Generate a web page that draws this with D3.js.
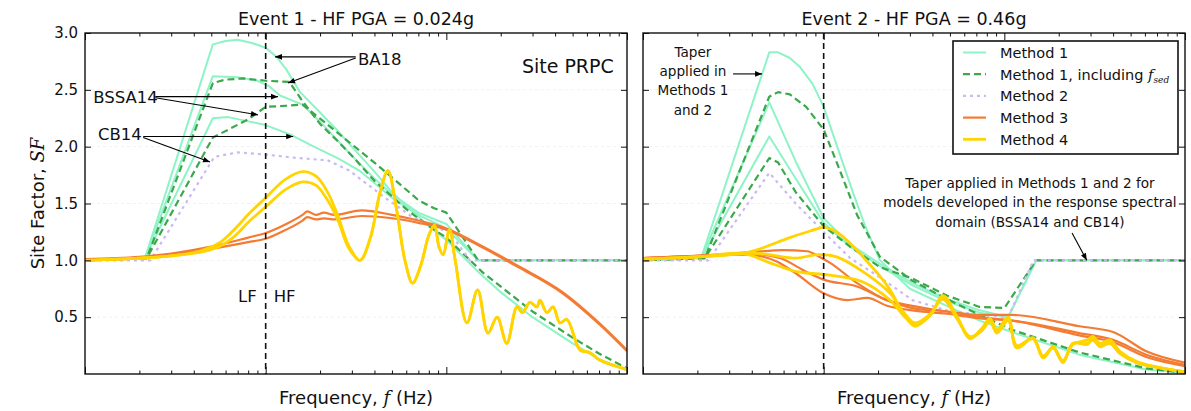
<!DOCTYPE html>
<html lang="en">
<head>
<meta charset="UTF-8">
<title>Site factors - Site PRPC</title>
<script src="https://d3js.org/d3.v7.min.js"></script>
<style>
  body { margin: 0; background: #fff; }
  svg text { font-family: "DejaVu Sans", sans-serif; fill: #111; }
</style>
</head>
<body>
<svg width="1191" height="411" viewBox="0 0 1191 411"></svg>
<script>
// ---- data: [frequency (Hz), site factor SF] ----

// Event 1 (PGA 0.024g)
const e1_m1_ba18 = [[0.1,1.0],[0.215,1.02],[0.51,2.90],[0.6,2.93],[0.7,2.94],[0.85,2.91],[1.0,2.87],[1.15,2.79],[1.3,2.68],[1.55,2.48],[2.0,2.3],[2.5,2.14],[3,2.0],[4,1.78],[5,1.6],[6,1.48],[8,1.3],[10,1.18],[15,0.9],[20,0.72],[30,0.5],[50,0.27],[70,0.13],[100,0.03]]
const e1_m1_bssa14 = [[0.1,1.0],[0.215,1.02],[0.51,2.62],[0.7,2.61],[0.9,2.58],[1.05,2.53],[1.2,2.45],[1.6,2.37],[2,2.22],[3,1.92],[4,1.72],[5,1.58],[7,1.42],[10,1.32],[15,1.0],[100,1.0]]
const e1_m1_cb14 = [[0.1,1.0],[0.215,1.02],[0.51,2.25],[0.62,2.26],[1.0,2.19],[1.4,2.1],[1.8,2.01],[2.5,1.9],[3.3,1.79],[4,1.68],[5,1.55],[7,1.4],[10,1.28],[15,1.0],[100,1.0]]
const e1_m1s_ba18 = [[0.1,1.0],[0.22,1.02],[0.51,2.56],[0.6,2.59],[0.75,2.6],[1.0,2.58],[1.35,2.57],[1.6,2.4],[2,2.2],[2.5,2.05],[3,1.92],[4,1.7],[6,1.45],[8,1.3],[10,1.2],[16,0.89],[30,0.55],[50,0.32],[70,0.18],[100,0.05]]
const e1_m1s_bssa14 = [[0.1,1.0],[0.22,1.02],[0.51,2.08],[0.8,2.24],[1.0,2.35],[1.3,2.36],[1.6,2.37],[2.3,2.17],[3,2.02],[4,1.86],[5,1.73],[7,1.53],[8.5,1.46],[10,1.42],[15,1.0],[100,1.0]]
const e1_m2 = [[0.1,1.0],[0.23,1.0],[0.52,1.91],[0.7,1.95],[1.0,1.93],[1.5,1.9],[2.2,1.88],[2.9,1.79],[4.5,1.56],[6.5,1.38],[10.5,1.24],[13.5,1.0],[100,1.0]]
const e1_m3_a = [[0.1,1.01],[0.2,1.03],[0.3,1.06],[0.5,1.12],[0.8,1.2],[1.0,1.24],[1.3,1.32],[1.6,1.4],[1.7,1.43],[1.9,1.4],[2.1,1.42],[2.4,1.4],[3.4,1.44],[5,1.4],[7,1.35],[10,1.28],[16,1.12],[25,0.95],[44,0.72],[70,0.45],[100,0.21]]
const e1_m3_b = [[0.1,1.0],[0.2,1.02],[0.3,1.05],[0.5,1.1],[0.8,1.16],[1.0,1.19],[1.3,1.27],[1.6,1.35],[1.7,1.38],[1.9,1.36],[2.1,1.37],[2.4,1.36],[3.4,1.39],[5,1.37],[7,1.33],[10,1.27],[16,1.11],[25,0.94],[44,0.71],[70,0.44],[100,0.2]]
const e1_m4_a = [[0.1,1.0],[0.2,1.02],[0.3,1.04],[0.43,1.08],[0.55,1.15],[0.66,1.26],[0.82,1.42],[1.0,1.55],[1.28,1.71],[1.6,1.78],[1.9,1.74],[2.2,1.6],[2.5,1.4],[2.9,1.12],[3.33,1.0],[3.8,1.2],[4.3,1.6],[4.75,1.79],[5.3,1.45],[5.9,1.0],[6.5,0.8],[7.2,0.95],[8.0,1.22],[8.6,1.31],[9.1,1.12],[9.6,1.05],[10.4,1.27],[11.2,1.0],[13.0,0.45],[14.9,0.74],[17.0,0.36],[19.1,0.5],[21.6,0.27],[24.6,0.59],[26.4,0.54],[29.0,0.63],[31.7,0.59],[33,0.65],[36,0.54],[39,0.59],[42.5,0.45],[46.5,0.48],[55,0.21],[62,0.19],[71,0.12],[100,0.04]]
const e1_m4_b = [[0.1,1.0],[0.2,1.02],[0.3,1.04],[0.43,1.07],[0.55,1.12],[0.66,1.2],[0.82,1.35],[1.0,1.47],[1.28,1.62],[1.6,1.69],[1.9,1.66],[2.2,1.53],[2.5,1.36],[2.9,1.1],[3.33,1.0],[3.8,1.2],[4.3,1.6],[4.75,1.79],[5.3,1.45],[5.9,1.0],[6.5,0.8],[7.2,0.95],[8.0,1.22],[8.6,1.31],[9.1,1.12],[9.6,1.05],[10.4,1.27],[11.2,1.0],[13.0,0.45],[14.9,0.74],[17.0,0.36],[19.1,0.5],[21.6,0.27],[24.6,0.59],[26.4,0.54],[29.0,0.63],[31.7,0.59],[33,0.65],[36,0.54],[39,0.59],[42.5,0.45],[46.5,0.48],[55,0.21],[62,0.19],[71,0.12],[100,0.04]]

// Event 2 (PGA 0.46g)
const e2_m1_ba18 = [[0.1,1.0],[0.21,1.02],[0.5,2.83],[0.56,2.83],[0.65,2.78],[0.74,2.7],[0.87,2.55],[1.0,2.35],[1.2,1.98],[1.45,1.6],[1.7,1.3],[2.05,1.0],[3,0.75],[4.8,0.6],[7.3,0.47],[11,0.37],[26,0.17],[61,0.04],[100,0.01]]
const e2_m1_bssa14 = [[0.1,1.0],[0.21,1.02],[0.5,2.39],[0.7,1.87],[1.0,1.37],[1.4,1.14],[2.05,0.97],[3.1,0.8],[4.8,0.66],[7.3,0.56],[10.5,0.5],[15,1.0],[100,1.0]]
const e2_m1_cb14 = [[0.1,1.0],[0.21,1.02],[0.5,2.09],[0.7,1.72],[1.0,1.33],[1.4,1.12],[2.05,0.95],[3.1,0.78],[4.8,0.64],[7.3,0.54],[10.5,0.5],[15,1.0],[100,1.0]]
const e2_m1s_ba18 = [[0.1,1.0],[0.22,1.02],[0.5,2.44],[0.56,2.48],[0.65,2.46],[0.8,2.35],[1.0,2.15],[1.23,1.79],[1.53,1.4],[2.05,1.03],[3.1,0.82],[4.8,0.66],[7.3,0.52],[11,0.39],[26,0.19],[61,0.05],[100,0.01]]
const e2_m1s_cb14 = [[0.1,1.0],[0.22,1.02],[0.5,1.9],[0.56,1.86],[0.7,1.6],[1.0,1.3],[1.4,1.12],[2.05,0.94],[3.1,0.84],[4.8,0.69],[7.3,0.59],[10,0.58],[15,1.0],[100,1.0]]
const e2_m2 = [[0.1,1.0],[0.23,1.0],[0.5,1.77],[0.7,1.5],[1.0,1.25],[1.4,1.02],[2.05,0.85],[3.1,0.65],[4.8,0.56],[7.3,0.52],[10.5,0.5],[14.5,1.0],[100,1.0]]
const e2_m3_a = [[0.1,1.02],[0.2,1.04],[0.38,1.07],[0.6,1.09],[0.81,1.08],[0.95,1.03],[1.08,0.98],[1.53,0.8],[2.24,0.65],[3.1,0.6],[4.8,0.55],[7.3,0.52],[11,0.52],[26,0.42],[40,0.37],[61,0.2],[100,0.1]]
const e2_m3_b = [[0.1,1.02],[0.2,1.04],[0.38,1.06],[0.57,1.02],[0.8,0.9],[1.0,0.83],[1.53,0.77],[2.24,0.65],[3.1,0.58],[4.8,0.55],[7.3,0.5],[11,0.47],[26,0.34],[40,0.28],[61,0.15],[100,0.07]]
const e2_m3_c = [[0.1,1.02],[0.2,1.04],[0.38,1.05],[0.55,0.99],[0.71,0.88],[1.0,0.71],[1.35,0.65],[1.74,0.67],[2.24,0.6],[3.1,0.56],[4.8,0.53],[7.3,0.49],[11,0.47],[26,0.36],[40,0.3],[61,0.17],[100,0.08]]
const e2_m4_a = [[0.1,1.01],[0.2,1.03],[0.38,1.07],[0.65,1.2],[0.85,1.26],[1.0,1.29],[1.18,1.25],[1.4,1.15],[1.65,1.03],[2.0,0.88],[2.33,0.74],[2.75,0.54],[3.2,0.42],[3.9,0.52],[4.57,0.69],[5.5,0.5],[6.45,0.32],[7.5,0.4],[8.32,0.49],[9.1,0.39],[10.5,0.5],[11.7,0.24],[14.4,0.32],[16.4,0.15],[18.6,0.24],[21.1,0.11],[24,0.27],[28.7,0.26],[30.9,0.3],[33.8,0.24],[38.4,0.27],[43.6,0.18],[54.2,0.1],[75.5,0.05],[100,0.02]]
const e2_m4_b = [[0.1,1.01],[0.2,1.03],[0.43,1.06],[0.71,1.02],[0.92,1.05],[1.18,1.03],[1.65,0.9],[2.33,0.71],[2.75,0.55],[3.2,0.45],[3.9,0.53],[4.57,0.66],[5.5,0.48],[6.45,0.33],[7.5,0.38],[8.32,0.46],[9.1,0.36],[10.5,0.47],[11.7,0.25],[14.4,0.31],[16.4,0.16],[18.6,0.23],[21.1,0.12],[24,0.26],[28.7,0.3],[30.9,0.33],[33.8,0.27],[38.4,0.3],[43.6,0.2],[54.2,0.11],[75.5,0.05],[100,0.02]]
const e2_m4_c = [[0.1,1.01],[0.2,1.03],[0.36,1.06],[0.5,0.98],[0.71,0.9],[1.08,0.87],[1.65,0.81],[2.33,0.65],[2.75,0.52],[3.2,0.43],[3.9,0.52],[4.57,0.68],[5.5,0.49],[6.45,0.31],[7.5,0.39],[8.32,0.48],[9.1,0.38],[10.5,0.49],[11.7,0.23],[14.4,0.31],[16.4,0.14],[18.6,0.23],[21.1,0.1],[24,0.27],[28.7,0.27],[30.9,0.31],[33.8,0.25],[38.4,0.28],[43.6,0.19],[54.2,0.1],[75.5,0.05],[100,0.02]]

// axes
const freqDomain = [0.1, 100]
const sfDomain = [0, 3]
const sfTicks = [0.5, 1.0, 1.5, 2.0, 2.5, 3.0]
const freqMajor = [0.1, 1, 10, 100]
const freqMinor = [-1, 0, 1].flatMap(e => [2,3,4,5,6,7,8,9].map(m => +(m * Math.pow(10, e)).toPrecision(3)))
const lfhfFreq = 1

const methods = [
    {key: 'm1',  label: 'Method 1',             color: '#8ef3c6', width: 2,   dash: null,  curve: d3.curveLinear},
    {key: 'm1s', label: 'Method 1, including ', color: '#3ba84b', width: 2.2, dash: '7,4', curve: d3.curveLinear},
    {key: 'm2',  label: 'Method 2',             color: '#cbb9f3', width: 2.2, dash: '3,4', curve: d3.curveLinear},
    {key: 'm3',  label: 'Method 3',             color: '#f47b33', width: 2.2, dash: null,  curve: d3.curveMonotoneX},
    {key: 'm4',  label: 'Method 4',             color: '#ffd400', width: 2.8, dash: null,  curve: d3.curveCatmullRom}
]

const panels = [
    {
        x0: 85, x1: 627, title: 'Event 1 - HF PGA = 0.024g', tickLabels: true,
        curves: [['m1', e1_m1_ba18], ['m1', e1_m1_bssa14], ['m1', e1_m1_cb14],
                 ['m1s', e1_m1s_ba18], ['m1s', e1_m1s_bssa14], ['m2', e1_m2],
                 ['m3', e1_m3_a], ['m3', e1_m3_b], ['m4', e1_m4_a], ['m4', e1_m4_b]],
        labels: [
            {text: 'BA18', at: [3.24, 2.72], anchor: 'start', size: 16.5},
            {text: 'BSSA14', at: [0.111, 2.38], anchor: 'start', size: 16.5},
            {text: 'CB14', at: [0.118, 2.06], anchor: 'start', size: 16.5},
            {text: 'Site PRPC', at: [84.5, 2.65], anchor: 'end', size: 19},
            {text: 'LF', at: [1, 0.633], anchor: 'end', size: 16.5, dx: -9},
            {text: 'HF', at: [1, 0.633], anchor: 'start', size: 16.5, dx: 8}
        ],
        arrows: [
            [[3.15, 2.79], [1.126, 2.79]], [[3.15, 2.78], [1.33, 2.56]],
            [[0.245, 2.44], [1.17, 2.44]], [[0.245, 2.43], [0.906, 2.28]],
            [[0.21, 2.09], [1.42, 2.09]], [[0.21, 2.08], [0.492, 1.865]]
        ],
        notes: []
    },
    {
        x0: 643, x1: 1185, title: 'Event 2 - HF PGA = 0.46g', tickLabels: false,
        curves: [['m1', e2_m1_ba18], ['m1', e2_m1_bssa14], ['m1', e2_m1_cb14],
                 ['m1s', e2_m1s_ba18], ['m1s', e2_m1s_cb14], ['m2', e2_m2],
                 ['m3', e2_m3_a], ['m3', e2_m3_b], ['m3', e2_m3_c],
                 ['m4', e2_m4_a], ['m4', e2_m4_b], ['m4', e2_m4_c]],
        labels: [],
        arrows: [
            [[0.315, 2.64], [0.456, 2.64]],
            [[23.7, 1.24], [28.6, 1.0]]
        ],
        notes: [
            {lines: ['Taper', 'applied in', 'Methods 1', 'and 2'], at: [0.189, 2.79]},
            {lines: ['Taper applied in Methods 1 and 2 for', 'models developed in the response spectral', 'domain (BSSA14 and CB14)'], at: [13.86, 1.636]}
        ]
    }
]

const svg = d3.select('svg')
const yTop = 33, yBottom = 374

const defs = svg.append('defs')
defs.append('marker')
    .attr('id', 'arrowhead')
    .attr('viewBox', '0 0 10 10')
    .attr('refX', 10).attr('refY', 5)
    .attr('markerWidth', 8).attr('markerHeight', 7)
    .attr('markerUnits', 'userSpaceOnUse')
    .attr('orient', 'auto')
    .append('path')
    .attr('d', 'M0,1 L10,5 L0,9 Z')
    .attr('fill', '#000')

panels.forEach((p, i) => {
    let x = d3.scaleLog().domain(freqDomain).range([p.x0, p.x1])
    let y = d3.scaleLinear().domain(sfDomain).range([yBottom, yTop])
    let g = svg.append('g')

    // faint grid
    g.append('g').selectAll('line').data(sfTicks.slice(0, -1)).enter().append('line')
        .attr('x1', p.x0).attr('x2', p.x1)
        .attr('y1', d => y(d)).attr('y2', d => y(d))
        .attr('stroke', '#f0f0f0').attr('stroke-dasharray', '3,3')

    defs.append('clipPath').attr('id', 'clip' + i)
        .append('rect').attr('x', p.x0).attr('y', yTop)
        .attr('width', p.x1 - p.x0).attr('height', yBottom - yTop)

    let plot = g.append('g').attr('clip-path', `url(#clip${i})`)

    // curves, drawn method by method
    methods.forEach(m => {
        let line = d3.line().x(d => x(d[0])).y(d => y(d[1])).curve(m.curve)
        plot.append('g').selectAll('path')
            .data(p.curves.filter(c => c[0] === m.key).map(c => c[1]))
            .enter().append('path')
            .attr('d', line)
            .attr('fill', 'none')
            .attr('stroke', m.color)
            .attr('stroke-width', m.width)
            .attr('stroke-dasharray', m.dash)
            .attr('stroke-linejoin', 'round')
    })

    // LF / HF boundary
    g.append('line')
        .attr('x1', x(lfhfFreq)).attr('x2', x(lfhfFreq))
        .attr('y1', yTop).attr('y2', yBottom)
        .attr('stroke', '#111').attr('stroke-width', 1.6)
        .attr('stroke-dasharray', '6,4')

    // axes with inward ticks on all four sides
    const tidy = a => { a.select('.domain').remove(); a.selectAll('line').attr('stroke', '#111') }
    g.append('g').attr('transform', `translate(0,${yBottom})`)
        .call(d3.axisBottom(x).tickValues(freqMinor).tickSize(-3.5).tickFormat('')).call(tidy)
    g.append('g').attr('transform', `translate(0,${yBottom})`)
        .call(d3.axisBottom(x).tickValues(freqMajor).tickSize(-7).tickFormat('')).call(tidy)
    g.append('g').attr('transform', `translate(0,${yTop})`)
        .call(d3.axisTop(x).tickValues(freqMinor).tickSize(-3.5).tickFormat('')).call(tidy)
    g.append('g').attr('transform', `translate(0,${yTop})`)
        .call(d3.axisTop(x).tickValues(freqMajor).tickSize(-7).tickFormat('')).call(tidy)
    let yl = g.append('g').attr('transform', `translate(${p.x0},0)`)
        .call(d3.axisLeft(y).tickValues(sfTicks).tickSize(-6).tickPadding(7)
            .tickFormat(p.tickLabels ? d3.format('.1f') : ''))
        .call(tidy)
    yl.selectAll('text').attr('font-family', '"DejaVu Sans", sans-serif').attr('font-size', 15).attr('fill', '#111')
    g.append('g').attr('transform', `translate(${p.x1},0)`)
        .call(d3.axisRight(y).tickValues(sfTicks).tickSize(-6).tickFormat('')).call(tidy)

    // frame
    g.append('rect')
        .attr('x', p.x0).attr('y', yTop)
        .attr('width', p.x1 - p.x0).attr('height', yBottom - yTop)
        .attr('fill', 'none').attr('stroke', '#111').attr('stroke-width', 1.4)

    // titles and axis labels
    let cx = (p.x0 + p.x1) / 2
    g.append('text').attr('x', cx).attr('y', 25)
        .attr('text-anchor', 'middle').attr('font-size', 17.5).text(p.title)
    let xlab = g.append('text').attr('x', cx).attr('y', 404)
        .attr('text-anchor', 'middle').attr('font-size', 18)
    xlab.append('tspan').text('Frequency, ')
    xlab.append('tspan').attr('font-family', '"DejaVu Serif", serif').attr('font-style', 'italic').text('f')
    xlab.append('tspan').text(' (Hz)')

    // annotations
    g.selectAll('.lab').data(p.labels).enter().append('text')
        .attr('x', d => x(d.at[0]) + (d.dx || 0)).attr('y', d => y(d.at[1]))
        .attr('text-anchor', d => d.anchor).attr('font-size', d => d.size)
        .text(d => d.text)

    g.selectAll('.arrow').data(p.arrows).enter().append('line')
        .attr('x1', d => x(d[0][0])).attr('y1', d => y(d[0][1]))
        .attr('x2', d => x(d[1][0])).attr('y2', d => y(d[1][1]))
        .attr('stroke', '#000').attr('stroke-width', 1.1)
        .attr('marker-end', 'url(#arrowhead)')

    p.notes.forEach(n => {
        let t = g.append('text')
            .attr('x', x(n.at[0])).attr('y', y(n.at[1]))
            .attr('text-anchor', 'middle')
            .attr('font-family', 'Lato, "Open Sans", sans-serif')
            .attr('font-size', 13.6)
        n.lines.forEach((s, k) => {
            t.append('tspan').attr('x', x(n.at[0])).attr('dy', k === 0 ? 0 : 19.3).text(s)
        })
    })
})

// shared y label
let ylab = svg.append('text')
    .attr('transform', `translate(44,${(yTop + yBottom) / 2}) rotate(-90)`)
    .attr('text-anchor', 'middle').attr('font-size', 18)
ylab.append('tspan').text('Site Factor, ')
ylab.append('tspan').attr('font-family', '"DejaVu Serif", serif').attr('font-style', 'italic').text('SF')

// legend
let legend = svg.append('g').attr('transform', 'translate(953,41)')
legend.append('rect').attr('width', 225).attr('height', 113)
    .attr('fill', '#fff').attr('stroke', '#111').attr('stroke-width', 1.6)
let rows = legend.selectAll('.row').data(methods).enter().append('g')
    .attr('transform', (d, i) => `translate(0,${11.5 + i * 21.7})`)
rows.append('line').attr('x1', 10).attr('x2', 33)
    .attr('stroke', d => d.color).attr('stroke-width', d => d.width)
    .attr('stroke-dasharray', d => d.dash)
let rowText = rows.append('text').attr('x', 47).attr('y', 5.5).attr('font-size', 14.5)
rowText.append('tspan').text(d => d.label)
rowText.filter(d => d.key === 'm1s').append('tspan')
    .attr('font-family', '"DejaVu Serif", serif').attr('font-style', 'italic').text('f')
rowText.filter(d => d.key === 'm1s').append('tspan')
    .attr('font-family', '"DejaVu Serif", serif').attr('font-style', 'italic')
    .attr('font-size', 9).attr('dy', 3).text('sed')
</script>
</body>
</html>
